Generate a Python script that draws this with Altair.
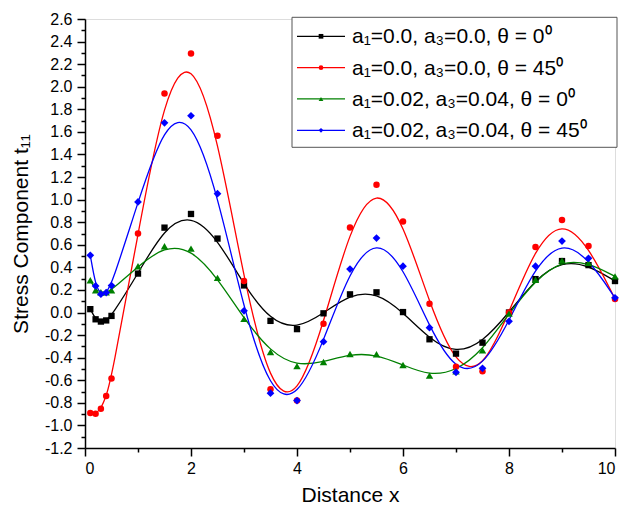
import altair as alt
import pandas as pd

x_vals = [0.1, 0.2, 0.3, 0.4, 0.5, 1.0, 1.5, 2.0, 2.5, 3.0, 3.5, 4.0, 4.5, 5.0,
          5.5, 6.0, 6.5, 7.0, 7.5, 8.0, 8.5, 9.0, 9.5, 10.0]

black_vals = [0.03, -0.06, -0.08, -0.07, -0.03, 0.345, 0.752, 0.873, 0.655, 0.24,
              -0.074, -0.147, -0.007, 0.161, 0.179, 0.004, -0.237, -0.364, -0.267,
              0.0, 0.296, 0.456, 0.42, 0.279]
red_vals = [-0.89, -0.897, -0.853, -0.74, -0.584, 0.70, 1.94, 2.295, 1.566, 0.28,
            -0.68, -0.78, -0.10, 0.754, 1.131, 0.807, 0.078, -0.48, -0.52, 0.0,
            0.58, 0.82, 0.59, 0.12]
green_vals = [0.286, 0.198, 0.18, 0.18, 0.198, 0.41, 0.587, 0.566, 0.307, -0.056,
              -0.35, -0.475, -0.438, -0.367, -0.37, -0.465, -0.559, -0.52, -0.335,
              -0.01, 0.29, 0.46, 0.44, 0.32]
blue_vals = [0.507, 0.236, 0.162, 0.177, 0.239, 0.98, 1.68, 1.743, 1.053, 0.015,
             -0.715, -0.78, -0.258, 0.385, 0.66, 0.41, -0.134, -0.53, -0.494,
             -0.078, 0.41, 0.633, 0.48, 0.13]

series_names = [
    "a\u2081=0.0, a\u2083=0.0, \u03b8 = 0\u2070",
    "a\u2081=0.0, a\u2083=0.0, \u03b8 = 45\u2070",
    "a\u2081=0.02, a\u2083=0.04, \u03b8 = 0\u2070",
    "a\u2081=0.02, a\u2083=0.04, \u03b8 = 45\u2070",
]
series_values = [black_vals, red_vals, green_vals, blue_vals]
series_colors = ["#000000", "#FF0000", "#008000", "#0000FF"]
marker_shapes = ["square", "circle", "triangle-up", "diamond"]
marker_sizes = [40, 42, 55, 60]

y_major = [-1.2, -1.0, -0.8, -0.6, -0.4, -0.2, 0.0, 0.2, 0.4, 0.6, 0.8, 1.0,
           1.2, 1.4, 1.6, 1.8, 2.0, 2.2, 2.4, 2.6]
y_minor = [-1.1, -0.9, -0.7, -0.5, -0.3, -0.1, 0.1, 0.3, 0.5, 0.7, 0.9, 1.1,
           1.3, 1.5, 1.7, 1.9, 2.1, 2.3, 2.5]
x_major = [0, 2, 4, 6, 8, 10]
x_minor = [1, 3, 5, 7, 9]

rows = []
for name, vals in zip(series_names, series_values):
    for xv, yv in zip(x_vals, vals):
        rows.append({"x": xv, "y": yv, "series": name})
df = pd.DataFrame(rows)

legend_df = pd.DataFrame({"series": series_names, "row": list(range(len(series_names)))})

FONT = "Liberation Sans"
xscale = alt.Scale(domain=[0, 10], nice=False, zero=False)
yscale = alt.Scale(domain=[-1.2, 2.6], nice=False, zero=False)
color_scale = alt.Scale(domain=series_names, range=series_colors)
label_expr = "replace(format(datum.value, '.1f'), '\u2212', '-')"

x_axis = alt.Axis(values=x_major, format="d", title="Distance x", grid=False,
                  tickSize=8, tickWidth=1.5, domainWidth=1.5, domainColor="black",
                  tickColor="black", labelFontSize=16, labelColor="black",
                  labelFont=FONT, titleFont=FONT, titleFontSize=21,
                  titleFontWeight="normal", titleColor="black", labelPadding=4,
                  titlePadding=8, orient="bottom")
y_axis = alt.Axis(values=y_major, labelExpr=label_expr, title="Stress Component t\u2081\u2081",
                  grid=False, tickSize=8, tickWidth=1.5, domainWidth=1.5,
                  domainColor="black", tickColor="black", labelFontSize=16,
                  labelColor="black", labelFont=FONT, titleFont=FONT,
                  titleFontSize=21, titleFontWeight="normal", titleColor="black",
                  labelPadding=5, titlePadding=13, orient="left")

lines = alt.Chart(df).mark_line(interpolate="basis", strokeWidth=1.3).encode(
    x=alt.X("x:Q", scale=xscale, axis=x_axis),
    y=alt.Y("y:Q", scale=yscale, axis=y_axis),
    color=alt.Color("series:N", scale=color_scale, legend=None),
    detail="series:N",
)

point_layers = []
for name, col, shp, sz in zip(series_names, series_colors, marker_shapes, marker_sizes):
    point_layers.append(
        alt.Chart(df).transform_filter(alt.datum.series == name).mark_point(
            shape=shp, filled=True, size=sz, color=col, opacity=1
        ).encode(x=alt.X("x:Q", scale=xscale, axis=None),
                 y=alt.Y("y:Q", scale=yscale, axis=None))
    )

minor = alt.Chart(df).mark_point(opacity=0).encode(
    x=alt.X("x:Q", scale=xscale,
            axis=alt.Axis(values=x_minor, labels=False, title=None, domain=False,
                          grid=False, tickSize=4, tickWidth=1.5, tickColor="black",
                          orient="bottom")),
    y=alt.Y("y:Q", scale=yscale,
            axis=alt.Axis(values=y_minor, labels=False, title=None, domain=False,
                          grid=False, tickSize=4, tickWidth=1.5, tickColor="black",
                          orient="left")),
)

# ---- hand-built legend (box, line samples, markers, labels) ----
leg_y = alt.Y("row:Q", scale=alt.Scale(domain=[0, 3], range=[17.3, 111.3]), axis=None)

leg_box = alt.Chart(legend_df.head(1)).mark_rect(
    fill="white", stroke="#555555", strokeWidth=1
).encode(x=alt.value(207), x2=alt.value(532), y=alt.value(-1.7), y2=alt.value(128.3))

leg_lines = alt.Chart(legend_df).mark_rule(strokeWidth=1.3).encode(
    x=alt.value(212), x2=alt.value(260), y=leg_y,
    color=alt.Color("series:N", scale=color_scale, legend=None),
)

leg_marks = alt.Chart(legend_df).mark_point(filled=True, size=22, opacity=1).encode(
    x=alt.value(236), y=leg_y,
    color=alt.Color("series:N", scale=color_scale, legend=None),
    shape=alt.Shape("series:N", scale=alt.Scale(domain=series_names, range=marker_shapes),
                    legend=None),
)

leg_text = alt.Chart(legend_df).mark_text(
    align="left", baseline="middle", font=FONT, fontSize=21, color="black", dy=1
).encode(x=alt.value(267), y=leg_y, text="series:N")

chart = alt.layer(
    lines, *point_layers, minor, leg_box, leg_lines, leg_marks, leg_text
).resolve_axis(
    x="independent", y="independent"
).resolve_scale(
    y="independent"
).properties(
    width=530, height=429,
    autosize=alt.AutoSizeParams(type="none"),
    padding={"left": 77, "top": 11, "right": 4, "bottom": 56},
).configure_view(stroke=None).configure(background="white")

chart.save("out.html", embed_options={"renderer": "svg", "actions": False})
